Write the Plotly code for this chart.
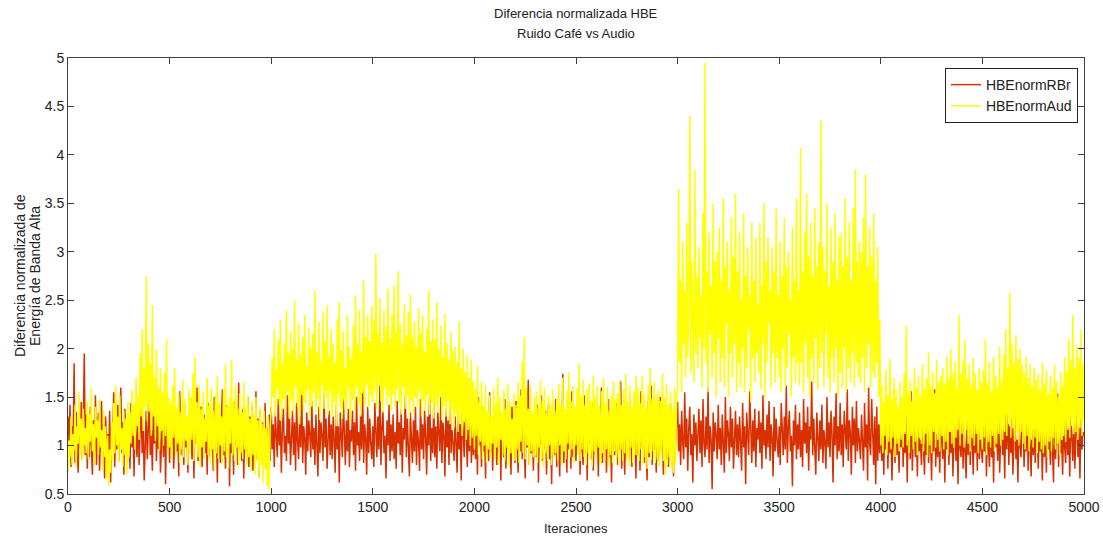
import numpy as np
import plotly.graph_objects as go

# HBE normalised difference - café noise (one value every 5 iterations)
hbe_norm_rbr = [
    1.30, 1.05, 1.42, 0.78, 1.20, 0.95, 1.85, 0.82, 1.35, 1.10, 0.72, 1.28, 0.98, 1.45, 0.86, 1.22, 1.95, 0.90, 1.32, 0.76,
    1.18, 0.88, 1.40, 1.02, 0.70, 1.26, 0.94, 1.52, 0.80, 1.15, 1.34, 0.74, 1.08, 1.46, 0.90, 1.22, 0.66, 1.30, 1.00, 1.12,
    0.85, 1.36, 0.62, 1.20, 1.04, 1.55, 0.78, 1.28, 0.96, 1.42, 0.84, 1.14, 1.60, 0.92, 1.24, 0.70, 1.38, 1.06, 0.82, 1.26,
    1.10, 0.76, 1.44, 0.98, 1.22, 0.68, 1.32, 1.06, 0.88, 1.50, 0.80, 1.18, 1.40, 0.92, 1.26, 0.64, 1.12, 1.36, 0.86, 1.20,
    1.48, 0.90, 1.16, 0.74, 1.34, 1.02, 1.62, 0.84, 1.24, 0.96, 1.40, 0.72, 1.10, 1.30, 0.88, 1.52, 0.60, 1.20, 1.04, 1.36,
    0.82, 1.28, 1.00, 1.44, 0.76, 1.16, 1.38, 0.94, 1.22, 0.68, 1.56, 0.90, 1.30, 1.08, 0.80, 1.42, 0.98, 1.18, 0.72, 1.34,
    1.06, 1.48, 0.86, 1.24, 0.66, 1.36, 1.02, 1.60, 0.84, 1.20, 0.96, 1.40, 0.78, 1.14, 1.32, 0.92, 1.26, 0.70, 1.44, 1.00,
    0.88, 1.30, 1.10, 0.74, 1.50, 0.94, 1.22, 0.62, 1.36, 1.04, 0.82, 1.28, 1.58, 0.90, 1.18, 0.76, 1.42, 0.98, 1.24, 0.58,
    1.34, 0.92, 1.16, 0.70, 1.46, 1.00, 1.26, 0.80, 1.65, 0.96, 1.12, 0.84, 1.38, 0.66, 1.22, 1.06, 0.88, 1.50, 0.78, 1.30,
    1.02, 1.40, 0.74, 1.20, 0.94, 1.56, 0.86, 1.28, 0.68, 1.36, 1.08, 0.82, 1.24, 0.98, 1.44, 0.76, 1.18, 0.90, 1.32, 0.84,
    1.40, 0.96, 1.22, 0.78, 1.34, 1.06, 0.88, 1.48, 1.00, 1.26, 0.72, 1.18, 1.38, 0.92, 1.10, 0.84, 1.52, 1.02, 1.28, 0.80,
    1.14, 1.36, 0.90, 1.24, 0.74, 1.44, 1.04, 0.86, 1.30, 0.98, 1.60, 0.82, 1.20, 1.08, 0.70, 1.34, 0.94, 1.26, 1.12, 0.88,
    1.46, 0.96, 1.18, 0.80, 1.32, 1.04, 0.68, 1.40, 0.92, 1.24, 1.10, 0.84, 1.55, 0.98, 1.28, 0.76, 1.16, 1.36, 0.90, 1.22,
    0.86, 1.30, 1.06, 0.72, 1.42, 0.96, 1.20, 0.62, 1.34, 1.02, 0.88, 1.48, 1.12, 0.80, 1.26, 0.94, 1.38, 0.78, 1.16, 1.04,
    1.36, 0.90, 1.24, 0.74, 1.50, 1.00, 1.14, 0.84, 1.32, 0.96, 1.58, 0.82, 1.22, 1.08, 0.70, 1.40, 0.92, 1.28, 1.02, 0.86,
    1.20, 0.78, 1.44, 1.04, 0.88, 1.30, 0.96, 1.62, 0.80, 1.18, 1.36, 0.92, 1.10, 0.66, 1.26, 1.00, 1.42, 0.84, 1.22, 0.94,
    1.32, 0.86, 1.14, 0.76, 1.46, 1.02, 1.24, 0.90, 1.38, 0.72, 1.18, 1.06, 1.52, 0.88, 1.28, 0.98, 0.68, 1.34, 1.08, 0.82,
    1.26, 0.94, 1.40, 0.80, 1.16, 1.04, 0.74, 1.48, 0.96, 1.22, 0.86, 1.36, 1.10, 0.70, 1.30, 1.00, 1.56, 0.84, 1.18, 0.92,
    1.44, 0.88, 1.20, 0.76, 1.34, 1.06, 0.94, 1.50, 0.82, 1.24, 1.12, 0.68, 1.38, 0.98, 1.26, 0.80, 1.60, 0.92, 1.16, 1.02,
    0.84, 1.30, 1.08, 0.72, 1.42, 0.96, 1.22, 0.64, 1.36, 1.00, 0.88, 1.46, 1.14, 0.78, 1.28, 0.94, 1.40, 0.82, 1.20, 0.90,
    1.36, 0.86, 1.18, 0.70, 1.50, 1.00, 1.26, 0.78, 1.40, 0.94, 1.12, 0.66, 1.32, 1.04, 0.84, 1.55, 0.92, 1.22, 0.74, 1.30,
    1.02, 1.44, 0.80, 1.20, 0.96, 1.36, 0.64, 1.28, 1.08, 0.88, 1.48, 0.76, 1.16, 1.34, 0.90, 1.24, 0.70, 1.40, 0.98, 1.14,
    0.82, 1.46, 1.04, 0.72, 1.30, 0.94, 1.58, 0.86, 1.22, 1.06, 0.66, 1.38, 0.98, 1.68, 0.80, 1.18, 0.92, 1.32, 0.74, 1.26,
    1.10, 0.88, 1.42, 0.62, 1.28, 1.00, 1.52, 0.84, 1.20, 0.96, 1.36, 0.70, 1.16, 1.44, 0.86, 1.24, 0.60, 1.34, 1.02, 0.90,
    1.48, 0.78, 1.26, 1.04, 0.68, 1.38, 0.94, 1.74, 0.82, 1.22, 1.08, 0.72, 1.42, 0.96, 1.30, 0.76, 1.56, 0.88, 1.18, 1.00,
    0.84, 1.34, 0.98, 1.46, 0.70, 1.24, 1.06, 0.80, 1.52, 0.92, 1.20, 0.64, 1.38, 1.02, 1.28, 0.86, 1.44, 0.74, 1.16, 1.32,
    0.94, 1.22, 0.68, 1.40, 1.00, 1.60, 0.82, 1.26, 0.96, 1.34, 0.72, 1.18, 1.48, 0.88, 1.10, 0.62, 1.36, 1.04, 0.90, 1.28,
    1.44, 0.80, 1.16, 0.96, 1.66, 0.76, 1.30, 1.02, 0.70, 1.38, 0.92, 1.24, 0.84, 1.50, 1.06, 0.78, 1.32, 0.98, 1.20, 0.66,
    1.40, 0.90, 1.26, 0.74, 1.56, 0.98, 1.14, 0.82, 1.34, 1.04, 0.64, 1.46, 0.88, 1.22, 1.62, 0.80, 1.28, 0.96, 1.10, 0.72,
    1.36, 1.00, 0.84, 1.50, 0.94, 1.24, 0.70, 1.40, 1.06, 0.86, 1.30, 0.78, 1.18, 1.44, 0.92, 1.26, 0.68, 1.34, 1.02, 1.20,
    1.45, 0.94, 1.22, 0.80, 1.36, 1.04, 0.86, 1.55, 0.98, 1.28, 0.74, 1.18, 1.40, 0.90, 1.12, 0.62, 1.32, 1.00, 1.24, 0.84,
    1.16, 1.38, 0.92, 1.26, 0.78, 1.48, 1.02, 0.88, 1.30, 0.96, 1.60, 0.82, 1.20, 1.06, 0.55, 1.34, 0.94, 1.24, 1.10, 0.86,
    1.42, 0.96, 1.18, 0.80, 1.32, 1.06, 0.72, 1.50, 0.92, 1.26, 1.12, 0.84, 1.40, 0.98, 1.28, 0.76, 1.14, 1.36, 0.90, 1.22,
    0.88, 1.30, 1.04, 0.74, 1.44, 0.98, 1.20, 0.60, 1.34, 1.02, 0.90, 1.56, 1.12, 0.82, 1.26, 0.94, 1.38, 0.78, 1.18, 1.06,
    1.36, 0.92, 1.24, 0.76, 1.52, 1.00, 1.16, 0.86, 1.32, 0.98, 1.46, 0.84, 1.22, 1.08, 0.68, 1.40, 0.94, 1.28, 1.04, 0.88,
    1.20, 0.80, 1.44, 1.04, 0.90, 1.30, 0.96, 1.62, 0.82, 1.18, 1.36, 0.94, 1.10, 0.58, 1.26, 1.00, 1.42, 0.86, 1.22, 0.96,
    1.34, 0.88, 1.16, 0.78, 1.48, 1.02, 1.24, 0.92, 1.40, 0.74, 1.20, 1.06, 1.66, 0.90, 1.28, 0.98, 0.70, 1.34, 1.08, 0.84,
    1.26, 0.96, 1.42, 0.82, 1.16, 1.04, 0.76, 1.50, 0.98, 1.24, 0.88, 1.36, 1.12, 0.62, 1.30, 1.00, 1.54, 0.86, 1.20, 0.94,
    1.44, 0.90, 1.22, 0.78, 1.36, 1.06, 0.96, 1.58, 0.84, 1.26, 1.14, 0.70, 1.40, 1.00, 1.28, 0.82, 1.46, 0.94, 1.18, 1.04,
    0.86, 1.32, 1.08, 0.74, 1.44, 0.98, 1.22, 0.64, 1.60, 1.02, 0.90, 1.48, 1.14, 0.80, 1.30, 0.60, 1.40, 0.84, 1.22, 0.92,
    1.30, 0.84, 1.12, 0.70, 1.44, 0.96, 1.20, 0.76, 1.34, 0.92, 1.08, 0.64, 1.26, 1.00, 0.82, 1.48, 0.90, 1.16, 0.72, 1.24,
    0.98, 1.38, 0.78, 1.14, 0.92, 1.30, 0.62, 1.22, 1.04, 0.86, 1.56, 0.74, 1.10, 1.28, 0.88, 1.18, 0.68, 1.36, 0.94, 1.06,
    0.80, 1.34, 1.00, 0.70, 1.24, 0.90, 1.46, 0.82, 1.16, 1.02, 0.64, 1.32, 0.94, 1.58, 0.78, 1.12, 0.88, 1.26, 0.72, 1.20,
    1.06, 0.86, 1.38, 0.62, 1.22, 0.96, 1.44, 0.80, 1.14, 0.92, 1.30, 0.68, 1.10, 1.36, 0.84, 1.18, 0.60, 1.28, 0.98, 0.88,
    1.40, 0.76, 1.20, 1.00, 0.66, 1.32, 0.90, 1.50, 0.80, 1.16, 1.04, 0.70, 1.34, 0.92, 1.24, 0.74, 1.42, 0.86, 1.12, 0.96,
    0.82, 1.28, 0.94, 1.38, 0.68, 1.18, 1.02, 0.78, 1.46, 0.88, 1.14, 0.62, 1.30, 0.98, 1.22, 0.84, 1.36, 0.72, 1.10, 1.26,
    0.90, 1.16, 0.66, 1.34, 0.96, 1.52, 0.80, 1.20, 0.92, 1.28, 0.70, 1.12, 1.40, 0.86, 1.06, 0.62, 1.30, 1.00, 0.88, 1.22,
    1.36, 0.78, 1.10, 0.94, 1.60, 0.74, 1.24, 0.98, 0.68, 1.32, 0.90, 1.18, 0.82, 1.44, 1.02, 0.76, 1.26, 0.94, 1.14, 0.64,
    1.34, 0.88, 1.20, 0.72, 1.48, 0.96, 1.10, 0.80, 1.28, 1.00, 0.62, 1.38, 0.86, 1.16, 1.54, 0.78, 1.22, 0.92, 1.06, 0.70,
    1.30, 0.98, 0.82, 1.42, 0.90, 1.18, 0.68, 1.34, 1.02, 0.84, 1.24, 0.76, 1.12, 1.58, 0.88, 1.20, 0.66, 1.28, 0.96, 1.14,
    1.10,
]

# HBE normalised difference - audio (one value every 5 iterations)
hbe_norm_aud = [
    0.72, 1.05, 0.88, 1.30, 0.80, 1.12, 0.95, 1.42, 0.78, 1.20, 1.02, 1.55, 0.90, 1.28, 0.84, 1.38, 1.00, 1.18, 0.92, 1.46,
    0.86, 1.32, 1.04, 1.60, 0.94, 1.22, 0.80, 1.40, 1.08, 1.26, 0.90, 1.48, 0.98, 1.16, 0.74, 1.36, 0.88, 1.20, 0.66, 1.10,
    0.58, 0.96, 0.72, 1.24, 0.84, 1.44, 0.92, 1.62, 1.00, 1.30, 0.82, 1.52, 0.96, 1.18, 0.78, 1.36, 0.90, 1.28, 0.70, 1.45,
    0.88, 1.34, 1.02, 1.58, 1.10, 1.42, 0.96, 1.70, 1.20, 1.52, 1.06, 1.95, 1.30, 2.20, 1.15, 1.80, 1.40, 2.75, 1.25, 2.05,
    1.35, 1.85, 1.10, 2.45, 1.30, 1.70, 1.05, 2.00, 1.20, 1.60, 0.95, 1.80, 1.15, 1.55, 1.00, 1.75, 1.10, 2.10, 0.92, 1.50,
    0.98, 1.45, 0.85, 1.62, 1.08, 1.80, 0.90, 1.40, 1.02, 1.55, 0.82, 1.35, 0.96, 1.68, 0.88, 1.48, 1.05, 1.30, 0.80, 1.58,
    0.92, 1.50, 1.06, 1.75, 0.84, 1.91, 1.00, 1.45, 0.88, 1.62, 0.78, 1.38, 0.98, 1.56, 0.86, 1.28, 1.04, 1.70, 0.90, 1.42,
    0.82, 1.60, 0.96, 1.36, 0.75, 1.52, 0.92, 1.72, 0.86, 1.44, 1.00, 1.30, 0.80, 1.58, 0.94, 1.84, 0.88, 1.40, 0.76, 1.50,
    1.02, 1.88, 0.90, 1.46, 0.84, 1.62, 0.98, 1.38, 0.78, 1.54, 0.92, 1.34, 0.86, 1.66, 0.96, 1.40, 0.80, 1.52, 0.88, 1.28,
    0.74, 1.46, 0.90, 1.32, 0.70, 1.50, 0.84, 1.26, 0.66, 1.40, 0.80, 1.22, 0.62, 1.36, 0.76, 1.18, 0.58, 1.30, 0.55, 1.20,
    1.35, 1.90, 1.50, 2.20, 1.30, 1.78, 1.58, 2.10, 1.42, 2.30, 1.25, 1.86, 1.48, 2.05, 1.36, 2.40, 1.55, 1.95, 1.28, 2.18,
    1.46, 2.00, 1.32, 2.50, 1.60, 1.88, 1.40, 2.26, 1.22, 1.94, 1.52, 2.12, 1.36, 2.35, 1.44, 1.82, 1.58, 2.22, 1.30, 2.02,
    1.40, 2.15, 1.55, 2.60, 1.35, 1.96, 1.48, 2.28, 1.26, 1.88, 1.62, 2.38, 1.38, 2.08, 1.50, 2.45, 1.32, 1.92, 1.56, 2.20,
    1.30, 2.05, 1.45, 1.86, 1.20, 2.30, 1.52, 2.48, 1.38, 1.98, 1.28, 2.18, 1.46, 1.80, 1.34, 2.35, 1.58, 2.02, 1.24, 1.90,
    1.48, 2.25, 1.36, 2.55, 1.60, 2.04, 1.42, 2.40, 1.30, 1.96, 1.54, 2.70, 1.40, 2.12, 1.62, 2.34, 1.38, 2.08, 1.50, 2.44,
    1.44, 2.30, 1.56, 2.98, 1.38, 2.16, 1.62, 2.52, 1.46, 2.06, 1.34, 2.40, 1.58, 2.22, 1.42, 2.62, 1.50, 2.10, 1.36, 2.36,
    1.52, 2.65, 1.40, 2.18, 1.58, 2.80, 1.44, 2.26, 1.32, 2.04, 1.60, 2.46, 1.38, 2.14, 1.50, 2.38, 1.28, 2.56, 1.46, 2.12,
    1.34, 2.28, 1.50, 2.02, 1.40, 2.42, 1.56, 2.16, 1.30, 2.34, 1.46, 1.96, 1.36, 2.20, 1.52, 2.60, 1.32, 2.08, 1.44, 2.30,
    1.28, 2.10, 1.42, 2.48, 1.34, 2.00, 1.50, 2.24, 1.26, 1.92, 1.40, 2.36, 1.30, 2.06, 1.46, 1.88, 1.22, 2.18, 1.36, 1.98,
    1.18, 2.02, 1.32, 1.86, 1.14, 2.28, 1.26, 1.80, 1.10, 2.00, 1.24, 1.76, 1.06, 1.94, 1.16, 1.70, 1.00, 1.88, 1.08, 1.66,
    0.96, 1.58, 1.10, 1.82, 0.90, 1.46, 1.04, 1.66, 0.86, 1.40, 1.00, 1.62, 0.82, 1.36, 0.96, 1.52, 0.88, 1.30, 1.02, 1.60,
    0.86, 1.44, 0.98, 1.70, 0.80, 1.50, 1.06, 1.34, 0.90, 1.58, 0.84, 1.38, 0.98, 1.64, 0.78, 1.46, 0.92, 1.28, 0.86, 1.54,
    0.84, 1.42, 0.96, 1.66, 0.82, 1.52, 1.04, 1.86, 0.92, 2.12, 0.86, 1.60, 1.00, 1.38, 0.80, 1.62, 0.94, 1.34, 0.88, 1.50,
    0.90, 1.56, 0.82, 1.40, 0.98, 1.68, 0.86, 1.46, 0.78, 1.60, 0.92, 1.34, 0.84, 1.52, 1.00, 1.42, 0.80, 1.58, 0.88, 1.36,
    0.92, 1.48, 0.84, 1.64, 1.00, 1.42, 0.80, 1.70, 0.94, 1.38, 0.86, 1.56, 1.02, 1.76, 0.88, 1.46, 0.96, 1.62, 0.82, 1.40,
    1.00, 1.60, 0.90, 1.85, 0.84, 1.52, 0.96, 1.68, 0.88, 1.42, 0.80, 1.58, 0.92, 1.64, 0.86, 1.46, 0.78, 1.72, 0.94, 1.50,
    0.86, 1.62, 0.98, 1.40, 0.80, 1.56, 0.92, 1.70, 0.84, 1.44, 0.96, 1.60, 0.78, 1.36, 0.90, 1.52, 0.82, 1.66, 0.94, 1.48,
    0.88, 1.54, 0.80, 1.68, 0.96, 1.42, 0.84, 1.58, 0.92, 1.74, 0.86, 1.46, 0.78, 1.62, 0.98, 1.40, 0.82, 1.56, 0.90, 1.72,
    0.90, 1.60, 0.84, 1.44, 0.96, 1.72, 0.80, 1.54, 0.88, 1.40, 0.76, 1.62, 0.92, 1.80, 0.85, 1.48, 0.94, 1.66, 0.82, 1.52,
    0.86, 1.58, 0.78, 1.46, 0.92, 1.75, 0.84, 1.50, 0.70, 1.64, 0.80, 1.42, 0.88, 1.56, 0.76, 1.38, 0.72, 1.60, 0.82, 1.48,
    1.60, 3.65, 1.85, 2.70, 1.55, 3.10, 2.05, 2.60, 1.70, 3.30, 1.90, 2.45, 4.40, 1.75, 2.90, 2.20, 1.65, 3.85, 1.95, 2.75,
    1.80, 3.05, 2.10, 2.55, 1.60, 3.40, 2.00, 4.95, 1.85, 2.80, 1.55, 3.20, 2.15, 2.65, 1.70, 3.50, 1.95, 2.90, 1.50, 3.00,
    2.10, 3.25, 1.65, 2.70, 1.90, 3.55, 1.60, 2.85, 2.25, 3.10, 1.50, 2.60, 1.95, 3.35, 1.70, 2.95, 2.05, 3.60, 1.55, 2.80,
    1.85, 3.20, 1.60, 2.50, 2.00, 3.40, 1.55, 2.75, 1.80, 3.05, 2.20, 2.55, 1.45, 3.30, 1.90, 2.70, 1.65, 3.15, 1.95, 2.45,
    1.75, 3.30, 1.58, 2.65, 2.05, 3.50, 1.50, 2.90, 1.85, 3.15, 2.25, 2.60, 1.60, 3.05, 1.95, 2.80, 1.65, 3.45, 1.90, 2.55,
    1.70, 3.10, 1.55, 2.75, 2.00, 3.35, 1.60, 2.85, 1.80, 3.00, 2.15, 2.50, 1.50, 3.25, 1.90, 2.70, 1.65, 3.55, 1.85, 2.60,
    1.62, 4.07, 1.85, 2.80, 1.55, 3.20, 2.05, 3.60, 1.70, 2.95, 1.50, 3.30, 1.90, 2.75, 1.65, 3.45, 2.10, 2.85, 1.58, 3.10,
    1.80, 4.36, 1.95, 3.05, 1.60, 2.80, 2.15, 3.50, 1.70, 2.65, 1.55, 3.25, 1.90, 2.90, 1.65, 3.40, 2.00, 2.70, 1.50, 3.15,
    1.75, 3.20, 1.60, 2.85, 2.00, 3.55, 1.55, 2.95, 1.80, 3.30, 1.65, 2.70, 1.95, 3.45, 1.60, 3.85, 1.85, 2.90, 1.70, 3.10,
    1.65, 3.00, 1.90, 3.35, 1.55, 3.80, 1.80, 2.85, 2.05, 3.25, 1.60, 2.95, 1.75, 3.40, 1.70, 2.70, 1.85, 3.05, 1.50, 2.30,
    1.00, 1.62, 0.92, 1.45, 1.10, 1.78, 0.90, 1.52, 1.04, 1.90, 0.96, 1.48, 1.08, 1.70, 0.88, 1.58, 1.02, 1.40, 0.94, 1.66,
    1.06, 1.50, 0.98, 1.74, 1.12, 2.24, 1.00, 1.56, 0.92, 1.68, 1.10, 1.46, 0.96, 1.80, 1.04, 1.60, 0.90, 1.72, 1.08, 1.52,
    1.02, 1.84, 0.94, 1.58, 1.12, 1.70, 0.88, 1.96, 1.00, 1.62, 0.92, 1.76, 1.14, 1.54, 0.98, 1.88, 1.06, 1.66, 0.94, 1.72,
    1.10, 1.80, 0.96, 1.64, 1.04, 1.92, 0.90, 1.70, 1.14, 2.00, 1.02, 1.76, 0.98, 1.86, 1.08, 1.60, 1.16, 2.35, 1.00, 1.74,
    1.12, 1.88, 0.98, 2.09, 1.16, 1.70, 1.02, 1.84, 0.94, 1.62, 1.08, 1.90, 1.00, 1.74, 1.12, 1.58, 0.92, 1.80, 1.06, 1.66,
    0.96, 1.78, 1.08, 2.10, 0.90, 1.64, 1.04, 1.86, 0.98, 1.56, 1.10, 1.92, 0.94, 1.72, 1.02, 1.60, 1.12, 2.02, 1.00, 1.68,
    1.06, 1.94, 1.14, 2.20, 1.10, 1.80, 1.22, 2.58, 1.08, 2.05, 1.18, 1.86, 1.04, 2.14, 1.12, 1.90, 1.00, 2.00, 1.14, 1.84,
    1.02, 1.76, 0.96, 1.92, 1.10, 1.70, 0.94, 1.84, 1.06, 1.62, 0.98, 1.80, 1.08, 1.68, 0.92, 1.74, 1.04, 1.58, 0.96, 1.86,
    0.92, 1.64, 1.00, 1.78, 0.88, 1.54, 1.04, 1.72, 0.94, 1.60, 1.08, 1.84, 0.96, 1.66, 1.02, 1.50, 0.90, 1.76, 1.06, 1.62,
    1.10, 1.92, 1.04, 1.76, 1.16, 2.10, 1.08, 1.88, 1.20, 2.35, 1.12, 1.80, 1.14, 2.02, 1.06, 1.90, 1.18, 2.20, 1.10, 1.84,
    1.25,
]

STEP = 5
iter_rbr = np.arange(len(hbe_norm_rbr)) * STEP
iter_aud = np.arange(len(hbe_norm_aud)) * STEP

x_ticks = [0, 500, 1000, 1500, 2000, 2500, 3000, 3500, 4000, 4500, 5000]
y_ticks = [0.5, 1, 1.5, 2, 2.5, 3, 3.5, 4, 4.5, 5]

font_family = "Liberation Sans, Arial, sans-serif"
text_color = "#222222"
frame = "#404040"

fig = go.Figure()
fig.add_trace(go.Scatter(
    x=iter_rbr, y=hbe_norm_rbr, mode="lines", name="HBEnormRBr",
    line=dict(color="#D83000", width=1.5),
))
fig.add_trace(go.Scatter(
    x=iter_aud, y=hbe_norm_aud, mode="lines", name="HBEnormAud",
    line=dict(color="#FFFF00", width=1.5),
))

axis_common = dict(
    showline=True, linecolor=frame, linewidth=1, mirror="ticks",
    ticks="inside", ticklen=6, tickcolor=frame, showgrid=False, zeroline=False,
    automargin=False,
    tickfont=dict(family=font_family, size=14, color=text_color),
)


def label(text, x, y, size=13, angle=0):
    return dict(text=text, x=x, y=y, xref="paper", yref="paper",
                xanchor="center", yanchor="middle", showarrow=False,
                textangle=angle, font=dict(family=font_family, size=size, color=text_color))


fig.update_layout(
    width=1103, height=542,
    margin=dict(l=68, r=19, t=58, b=48),
    paper_bgcolor="white", plot_bgcolor="white",
    xaxis=dict(range=[0, 5000], tickvals=x_ticks, **axis_common),
    yaxis=dict(range=[0.5, 5], tickvals=y_ticks, **axis_common),
    legend=dict(
        x=0.994, xanchor="right", y=0.977, yanchor="top",
        bgcolor="white", bordercolor="#222222", borderwidth=1,
        font=dict(family=font_family, size=14, color=text_color),
        tracegroupgap=0,
    ),
    showlegend=True,
    annotations=[
        label("Diferencia normalizada HBE", 0.5, 1.101),
        label("Ruido Café vs Audio", 0.5, 1.057),
        label("Iteraciones", 0.5, -0.080),
        label("Diferencia normalizada de", -0.0472, 0.5, size=14, angle=-90),
        label("Energía de Banda Alta", -0.0325, 0.5, size=14, angle=-90),
    ],
)

fig.write_html("out.html")
